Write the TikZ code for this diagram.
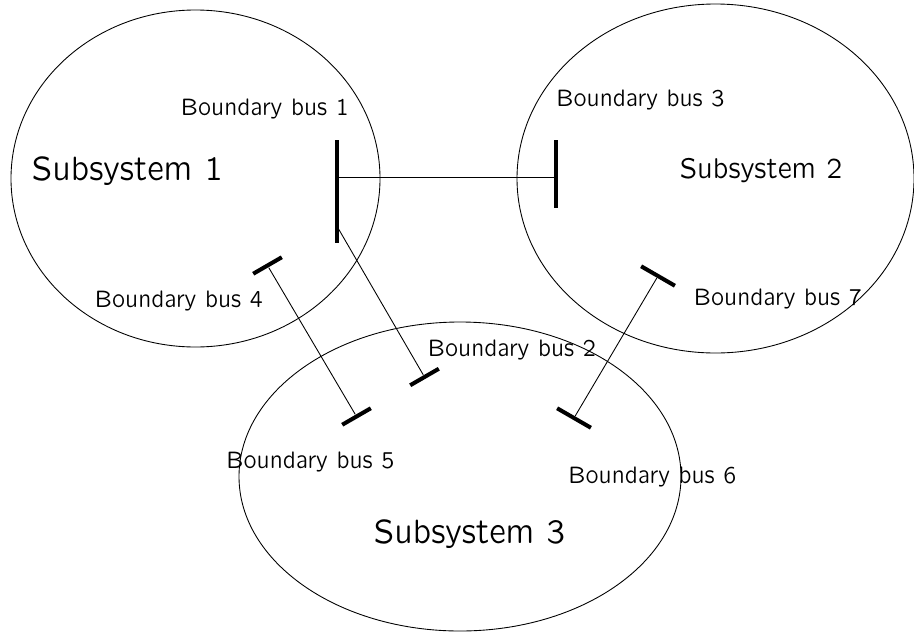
\documentclass[tikz,border=0pt]{standalone}
\usepackage{fontspec}
\setmainfont{lmsansquot8-regular.otf}[FakeStretch=0.875]
\usepackage{tikz}
\tikzstyle{every path}=[line width=0.5pt]
\tikzstyle{bus}=[fill, inner sep=0pt, minimum height=2.3pt]
\tikzstyle{buslabel}=[anchor=base, inner sep=0pt, font=\fontsize{13.6}{16}\selectfont]
\tikzstyle{arealabel}=[anchor=base, inner sep=0pt, font=\fontsize{19.2}{23}\selectfont]

\begin{document}
\begin{tikzpicture}
            \useasboundingbox (0, 0) rectangle (18.28, -12.64);
            \draw (3.91, -3.57) ellipse (3.69 and 3.37);
            \draw (14.31, -3.57) ellipse (3.97 and 3.49);
            \draw (9.2, -9.53) ellipse (4.42 and 3.09);

            \node[bus, minimum width=2.06cm, rotate=90] (b1) at (6.74, -3.83) {};
            \node[bus, minimum width=1.36cm, rotate=90] (b3) at (11.12, -3.48) {};
            \node[bus, minimum width=0.66cm, rotate=30] (b2) at (8.49, -7.54) {};
            \node[bus, minimum width=0.66cm, rotate=30] (b4) at (5.35, -5.31) {};
            \node[bus, minimum width=0.66cm, rotate=30] (b5) at (7.13, -8.33) {};
            \node[bus, minimum width=0.78cm, rotate=-30] (b7) at (13.16, -5.52) {};
            \node[bus, minimum width=0.78cm, rotate=-30] (b6) at (11.48, -8.36) {};
            \coordinate (b1top) at (6.74, -3.55);
            \coordinate (b1low) at (6.76, -4.56);

            \draw (b1top) -- (b1top -| b3);
            \draw (b1low) -- (b2);
            \draw (b4) -- (b5);
            \draw (b7) -- (b6);

            \node[buslabel] (l1) at (5.30, -2.30) {Boundary bus 1};
            \node[buslabel] (l3) at (12.81, -2.13) {Boundary bus 3};
            \node[buslabel] (l4) at (3.58, -6.14) {Boundary bus 4};
            \node[buslabel] (l7) at (15.56, -6.10) {Boundary bus 7};
            \node[buslabel] (l2) at (10.24, -7.12) {Boundary bus 2};
            \node[buslabel] (l5) at (6.21, -9.36) {Boundary bus 5};
            \node[buslabel] (l6) at (13.05, -9.66) {Boundary bus 6};
            \node[arealabel] (s1) at (2.55, -3.60) {Subsystem 1};
            \node[arealabel, font=\fontsize{16.3}{19}\selectfont] (s2) at (15.22, -3.56) {Subsystem 2};
            \node[arealabel] (s3) at (9.39, -10.86) {Subsystem 3};
        \end{tikzpicture}
\end{document}
